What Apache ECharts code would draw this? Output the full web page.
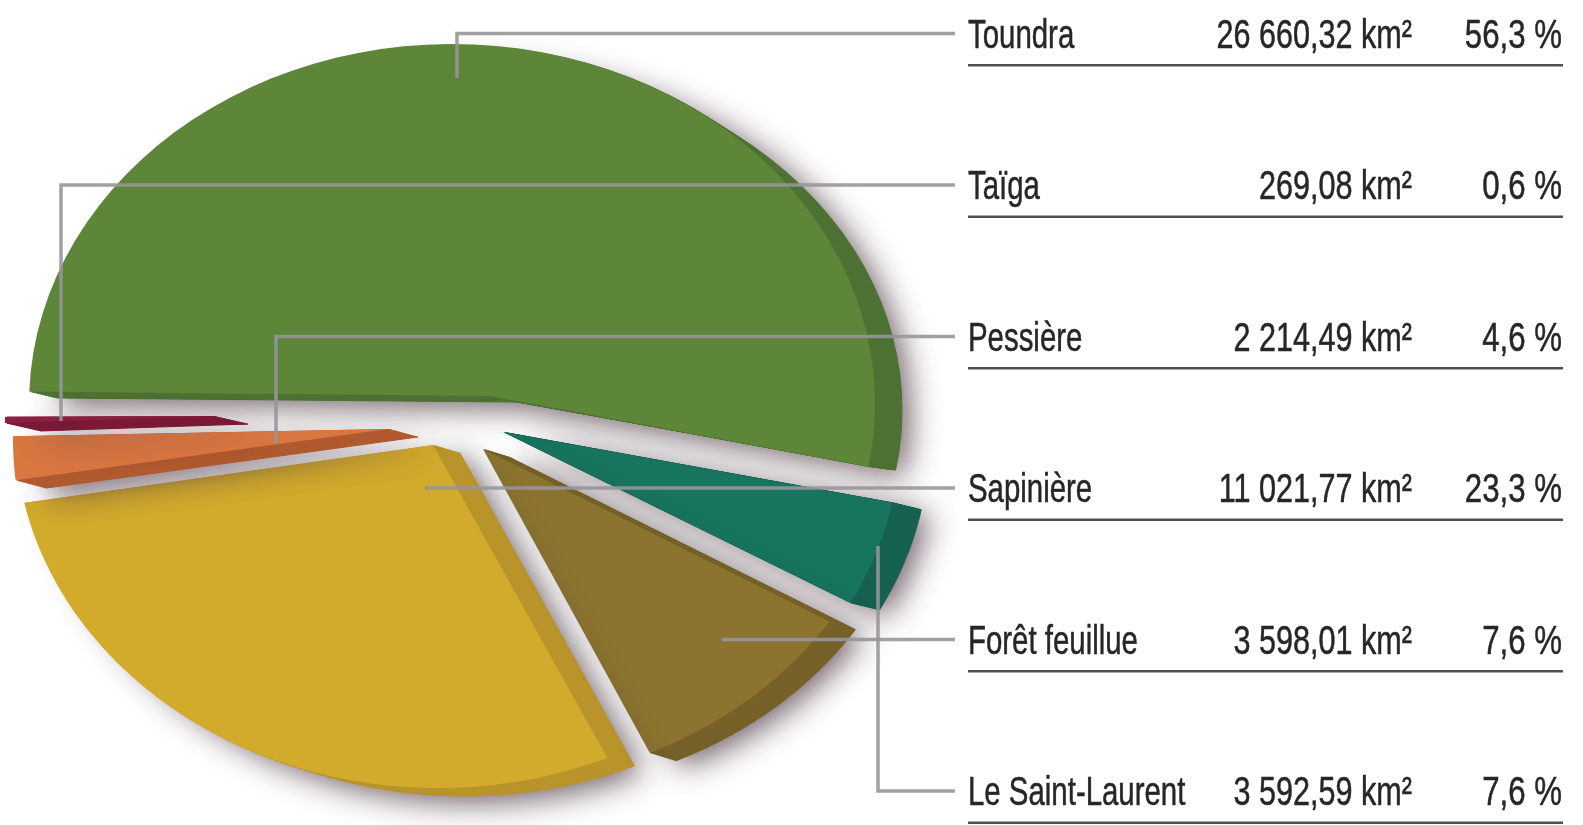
<!DOCTYPE html>
<html>
<head>
<meta charset="utf-8">
<style>
html, body { margin: 0; padding: 0; background: #fff; }
#chart { width: 1583px; height: 825px; }
</style>
<script src="https://cdn.jsdelivr.net/npm/echarts@6/dist/echarts.min.js"></script>
</head>
<body>
<div id="chart"></div>
<script>
// table rows, top to bottom
var names = ['Toundra', 'Taïga', 'Pessière', 'Sapinière', 'Forêt feuillue', 'Le Saint-Laurent'];
var areas = [26660.32, 269.08, 2214.49, 11021.77, 3598.01, 3592.59];
var shares = [56.3, 0.6, 4.6, 23.3, 7.6, 7.6];

// wedge angles as drawn in the picture (they do not follow the printed shares), degrees clockwise from east
var wedgeStart = [182, 180, 173.6, 66.4, 33.1, 11];
var wedgeSweep = [188, 1, 7, 101.6, 32.5, 17];

// look of each wedge, same order as the rows
var topColors = ['#5d8639', '#8a2040', '#da7741', '#d2aa2c', '#8c7430', '#17755f'];
var sideColors = ['#4d7233', '#7a1a36', '#b05a30', '#b8942a', '#766129', '#16614f'];
var centers = [[452, 404], [428, 423], [436, 440], [438, 428], [475, 425], [477, 434]];
var apexShift = [[38, -8], [-215, -7], [-48, -11], [-5, 17], [8, 24], [26, -2]];
var depth = [[27, 6], [35, 8], [30, 8], [27, 8], [26, 8], [29, 7]];
var sideRyTrim = [14, 0, 0, 0, 0, 0];
var drawOrder = [0, 5, 4, 3, 2, 1];
var RX = 423, RY = 360;

// leaders: x of the vertical run and where it stops, in row units
var leaderX = [457, 61, 276, 425, 722, 878];
var leaderStop = [0.294, 2.558, 2.703, 3, 4, 3.383];

var chart = echarts.init(document.getElementById('chart'));

function wedgePoints(api, i, dx, dy, ry) {
    var c = centers[i];
    var pts = [api.coord([c[0] + apexShift[i][0] + dx, c[1] + apexShift[i][1] + dy])];
    for (var s = 0; s <= 60; s++) {
        var t = (wedgeStart[i] + wedgeSweep[i] * s / 60) * Math.PI / 180;
        pts.push(api.coord([c[0] + dx + RX * Math.cos(t), c[1] + dy + ry * Math.sin(t)]));
    }
    return pts;
}

function renderWedge(params, api) {
    var i = api.value(0);
    var d = depth[i];
    var kids = [];
    var steps = 16;
    // extruded side: copies of the wedge from the far end towards the top face
    for (var k = steps; k > 0; k--) {
        var f = k / steps;
        var style = { fill: sideColors[i], stroke: sideColors[i], lineWidth: 1 };
        if (k === steps) {
            style.shadowBlur = 30;
            style.shadowColor = 'rgba(80,60,70,0.8)';
            style.shadowOffsetX = 7;
            style.shadowOffsetY = 6;
        }
        kids.push({
            type: 'polygon',
            shape: { points: wedgePoints(api, i, d[0] * f, d[1] * f, RY - sideRyTrim[i] * f) },
            style: style
        });
    }
    kids.push({
        type: 'polygon',
        shape: { points: wedgePoints(api, i, 0, 0, RY) },
        style: { fill: topColors[i] }
    });
    return { type: 'group', children: kids };
}

function renderLeader(params, api) {
    var i = api.value(0);
    return {
        type: 'polyline',
        shape: {
            points: [
                api.coord([leaderX[i], leaderStop[i]]),
                api.coord([leaderX[i], i]),
                api.coord([955, i])
            ]
        },
        style: { stroke: 'rgba(150,150,155,0.9)', lineWidth: 3.5, fill: null }
    };
}

function formatArea(v) {
    var parts = v.toFixed(2).split('.');
    return parts[0].replace(/\B(?=(\d{3})+$)/g, ' ') + ',' + parts[1];
}

function rowText(x, y, text, align, squeeze) {
    return {
        type: 'text',
        x: x,
        y: y + 3,
        scaleX: squeeze,
        style: {
            text: text,
            fill: '#262626',
            stroke: '#262626',
            lineWidth: 0.5,
            font: '40px "Liberation Sans"',
            align: align,
            verticalAlign: 'middle'
        }
    };
}

function renderRow(params, api) {
    var i = api.value(0);
    var y = api.coord([0, i])[1];
    var ruleY = api.coord([0, i + 0.21])[1];
    return {
        type: 'group',
        children: [
            rowText(api.coord([968, 0])[0], y, names[i], 'left', 0.735),
            rowText(api.coord([1412, 0])[0], y, formatArea(areas[i]) + ' km²', 'right', 0.765),
            rowText(api.coord([1562, 0])[0], y, String(shares[i]).replace('.', ',') + ' %', 'right', 0.78),
            {
                type: 'line',
                shape: { x1: api.coord([968, 0])[0], y1: ruleY, x2: api.coord([1563, 0])[0], y2: ruleY },
                style: { stroke: '#505050', lineWidth: 2.5 }
            }
        ]
    };
}

var option = {
    animation: false,
    backgroundColor: '#fff',
    grid: { left: 0, right: 0, top: 0, bottom: 0 },
    xAxis: { type: 'value', min: 0, max: 1583, show: false },
    yAxis: [
        { type: 'value', min: 0, max: 825, inverse: true, show: false },
        { type: 'value', min: -0.2211, max: 5.2244, inverse: true, show: false }
    ],
    series: [
        {
            type: 'custom',
            renderItem: renderWedge,
            clip: false,
            silent: true,
            yAxisIndex: 0,
            data: drawOrder.map(function (i) { return [i, 0]; })
        },
        {
            type: 'custom',
            renderItem: renderLeader,
            clip: false,
            silent: true,
            yAxisIndex: 1,
            data: names.map(function (n, i) { return [i, i]; })
        },
        {
            type: 'custom',
            renderItem: renderRow,
            clip: false,
            silent: true,
            yAxisIndex: 1,
            data: names.map(function (n, i) { return [i, i]; })
        }
    ]
};

chart.setOption(option);
</script>
</body>
</html>
